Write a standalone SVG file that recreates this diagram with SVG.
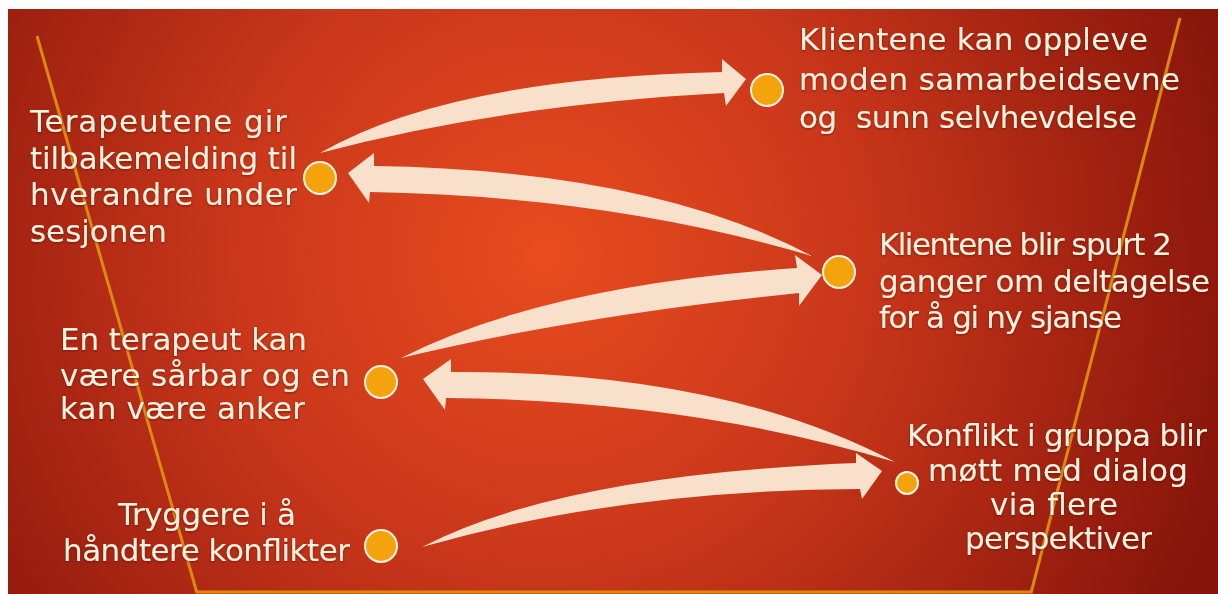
<svg xmlns="http://www.w3.org/2000/svg" width="1218" height="594" viewBox="0 0 1218 594">
<defs>
<radialGradient id="bg" gradientUnits="userSpaceOnUse" cx="545" cy="255" r="720">
<stop offset="0" stop-color="#e84c1f"/>
<stop offset="0.45" stop-color="#c8361a"/>
<stop offset="1" stop-color="#86140a"/>
</radialGradient>
<filter id="sh" x="-5%" y="-20%" width="110%" height="140%">
<feDropShadow dx="0" dy="1" stdDeviation="1" flood-color="#5a0800" flood-opacity="0.6"/>
</filter>
<style>
.t{font-family:"DejaVu Sans","Liberation Sans",sans-serif;font-size:31px;fill:#fff3df;filter:url(#sh)}
.c{fill:#f4a30c;stroke:#fff4e2;stroke-width:2}
.a{fill:#f9e0cb}
.g{stroke:#d98a10;stroke-width:3;fill:none}
</style>
</defs>
<rect x="0" y="0" width="1218" height="594" fill="#ffffff"/>
<rect x="8" y="9" width="1210" height="585" fill="url(#bg)"/>
<g id="frame">
<line class="g" x1="37" y1="36" x2="197" y2="593"/>
<line class="g" x1="197" y1="592" x2="1031" y2="592"/>
<line class="g" x1="1180" y1="18" x2="1031" y2="593"/>
</g>
<g id="connectors">
<path class="a" d="M320,153 Q450,78 722,72 L722,59 L746,79 L726,106 L724,93 Q500,105 320,153 Z"/>
<path class="a" d="M348,173 L374,153 L374,166 Q650,170 812,256 Q610,196 370,192 L369,203 Z"/>
<path class="a" d="M401,358 Q545,285 797,268 L795,255 L822,275 L799,306 L799,293 Q580,315 401,358 Z"/>
<path class="a" d="M423,379 L451,359 L451,372 Q720,370 895,462 Q690,400 446,398 L445,410 Z"/>
<path class="a" d="M422,547 Q560,475 856,463 L856,453 L882,471 L862,499 L860,489 Q620,490 422,547 Z"/>
</g>
<g id="node1">
<circle class="c" cx="320" cy="178" r="16"/>
<text class="t" x="30" y="132" textLength="257">Terapeutene gir</text>
<text class="t" x="30" y="169" textLength="267">tilbakemelding til</text>
<text class="t" x="30" y="205" textLength="267">hverandre under</text>
<text class="t" x="30" y="242" textLength="137">sesjonen</text>
</g>
<g id="node2">
<circle class="c" cx="767" cy="90" r="16"/>
<text class="t" x="799" y="50" textLength="349">Klientene kan oppleve</text>
<text class="t" x="799" y="90" textLength="381">moden samarbeidsevne</text>
<text class="t" x="799" y="128" textLength="338" style="white-space:pre">og  sunn selvhevdelse</text>
</g>
<g id="node3">
<circle class="c" cx="839" cy="272" r="16"/>
<text class="t" x="879" y="255" textLength="293">Klientene blir spurt 2</text>
<text class="t" x="879" y="292" textLength="331">ganger om deltagelse</text>
<text class="t" x="879" y="328" textLength="243">for å gi ny sjanse</text>
</g>
<g id="node4">
<circle class="c" cx="381" cy="382" r="16"/>
<text class="t" x="60" y="350" textLength="247">En terapeut kan</text>
<text class="t" x="60" y="386" textLength="290">være sårbar og en</text>
<text class="t" x="60" y="419" textLength="245">kan være anker</text>
</g>
<g id="node5">
<circle class="c" cx="381" cy="546" r="16"/>
<text class="t" x="118" y="525" textLength="178">Tryggere i å</text>
<text class="t" x="63" y="561" textLength="287">håndtere konflikter</text>
</g>
<g id="node6">
<circle class="c" cx="907" cy="483" r="11"/>
<text class="t" x="907" y="446" textLength="300">Konflikt i gruppa blir</text>
<text class="t" x="928" y="481" textLength="260">møtt med dialog</text>
<text class="t" x="990" y="515" textLength="128">via flere</text>
<text class="t" x="965" y="549" textLength="187">perspektiver</text>
</g>
</svg>
